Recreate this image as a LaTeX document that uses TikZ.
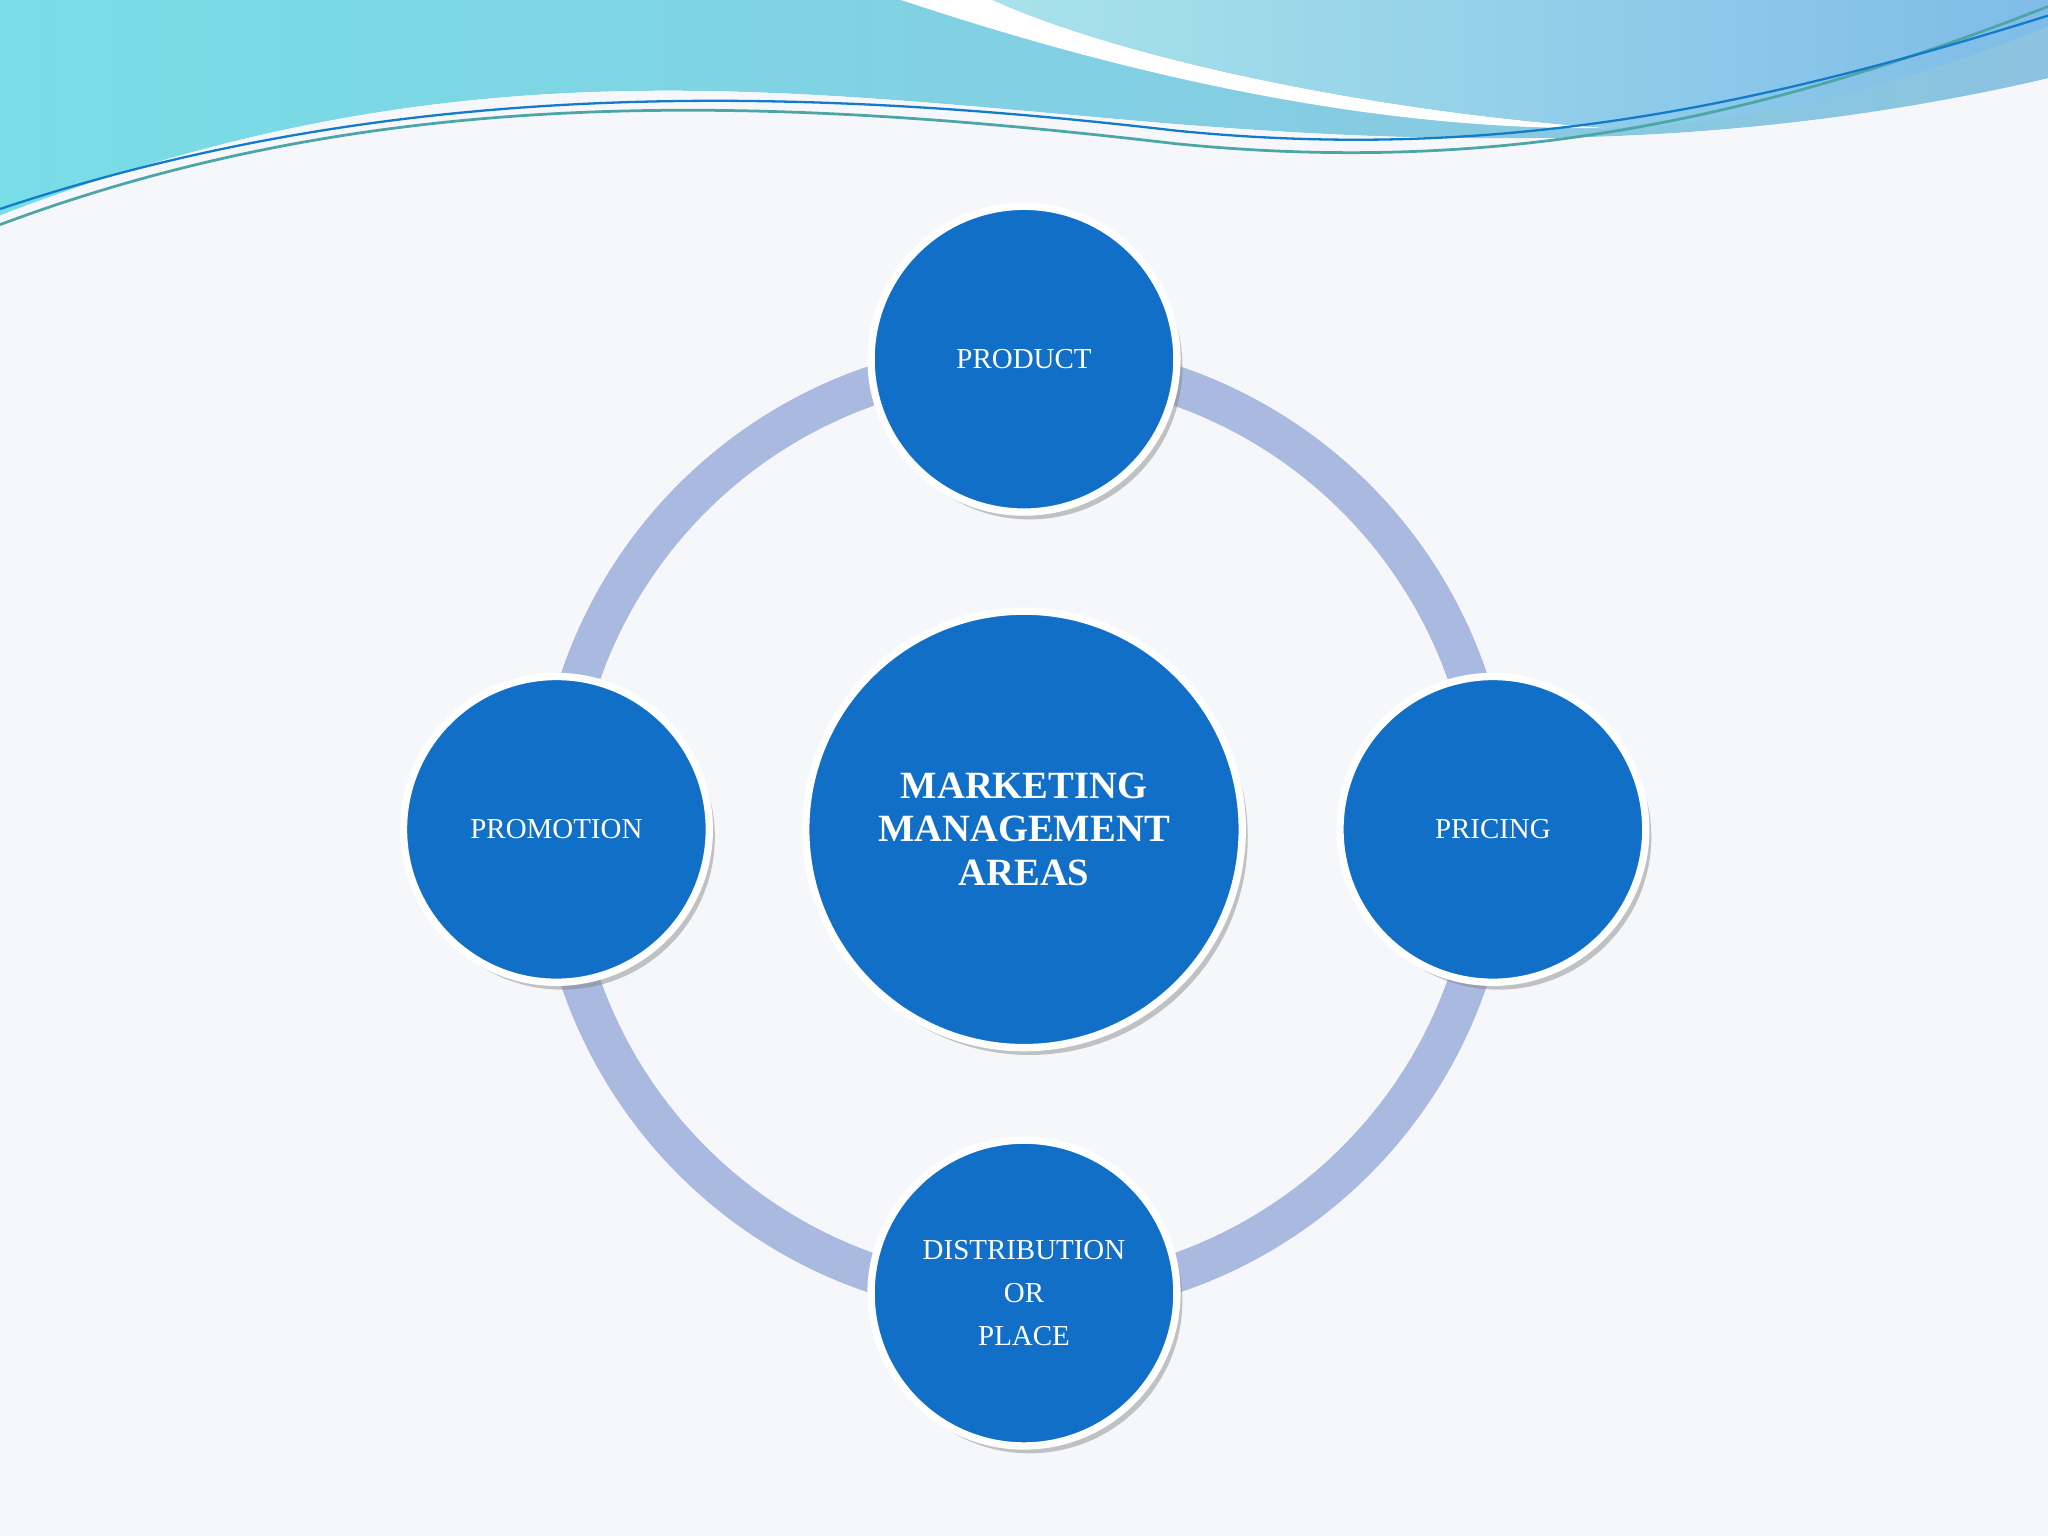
\documentclass[tikz,border=0pt]{standalone}
\usepackage{fontspec}
\setmainfont{Liberation Serif}
\usetikzlibrary{shadows}
\definecolor{bg}{HTML}{F6F7FA}
\definecolor{cblue}{HTML}{126FC7}
\definecolor{ring}{HTML}{AAB9DF}
\definecolor{wave1}{HTML}{8CC3E0}
\definecolor{wave2}{HTML}{78DDE6}
\definecolor{wave3}{HTML}{A8E3EA}
\definecolor{wave4}{HTML}{7FBCE8}
\tikzset{
  bub/.style={circle,fill=cblue,draw=white,line width=1.6pt,minimum size=2.34cm,inner sep=0pt,
    align=center,text=white,font=\fontsize{6.3}{9.4}\selectfont,
    drop shadow={shadow xshift=1.2pt,shadow yshift=-1.6pt,fill=black!50,opacity=.45}},
  hub/.style={bub,minimum size=3.34cm,font=\bfseries\fontsize{8.4}{9.4}\selectfont}
}
\begin{document}
\begin{tikzpicture}[x=0.01cm,y=-0.01cm]
\fill[bg] (0,0) rectangle (1568,1176);
\useasboundingbox (0,0) rectangle (1568,1176);
% waves
\shade[left color=wave2,right color=wave1] (0,0) -- (1568,0) -- (1568,60)
  .. controls (1350,110) and (1150,115) .. (900,95)
  .. controls (600,70) and (350,30) .. (0,165) -- cycle;
\fill[bg] (0,175) .. controls (300,60) and (600,60) .. (900,100)
  .. controls (1200,135) and (1400,100) .. (1568,60) -- (1568,62)
  .. controls (1350,110) and (1150,115) .. (900,95) .. controls (600,70) and (350,30) .. (0,165) -- cycle;
\fill[white] (690,0) .. controls (900,70) and (1080,100) .. (1230,98)
  .. controls (1050,85) and (860,45) .. (760,0) -- cycle;
\shade[left color=wave3,right color=wave4] (760,0) .. controls (860,45) and (1050,85) .. (1230,98)
  .. controls (1350,95) and (1470,60) .. (1568,20) -- (1568,0) -- cycle;
\draw[teal!70,line width=0.6pt] (0,172) .. controls (300,60) and (600,75) .. (900,110)
  .. controls (1150,135) and (1350,90) .. (1568,5);
\draw[cyan!60!blue,line width=0.5pt] (0,160) .. controls (300,60) and (600,65) .. (900,100)
  .. controls (1150,125) and (1350,80) .. (1568,12);
% ring
\draw[ring,line width=8.5pt] (784,635) circle[radius=359];
% nodes
\node[hub] (c) at (784,635) {MARKETING\\MANAGEMENT\\AREAS};
\node[bub] (p) at (784,275) {PRODUCT};
\node[bub] (pr) at (1143,635) {PRICING};
\node[bub] (pm) at (426,635) {PROMOTION};
\node[bub] (d) at (784,990) {DISTRIBUTION\\OR\\PLACE};
\end{tikzpicture}
\end{document}
